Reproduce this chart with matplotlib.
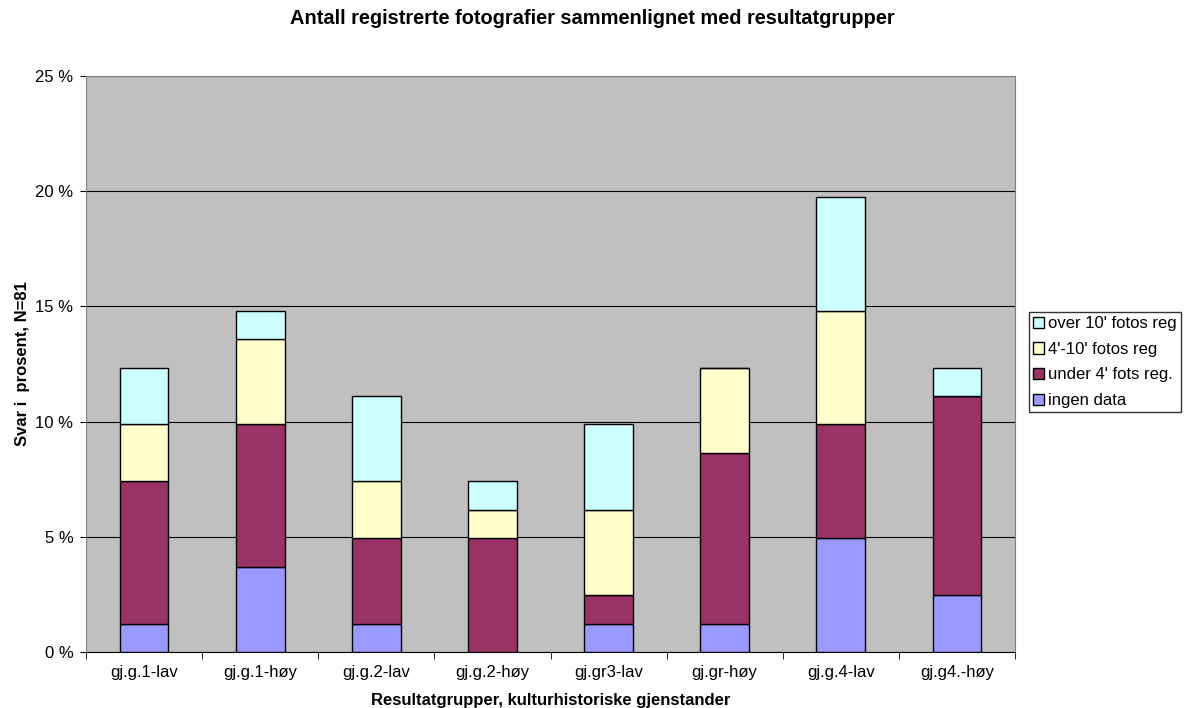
import matplotlib
matplotlib.use("Agg")
import matplotlib.pyplot as plt
import numpy as np
from matplotlib.ticker import FixedLocator, FuncFormatter

plt.rcParams['font.family'] = ['Liberation Sans', 'DejaVu Sans']

categories = ["gj.g.1-lav", "gj.g.1-høy", "gj.g.2-lav", "gj.g.2-høy",
              "gj.gr3-lav", "gj.gr-høy", "gj.g.4-lav", "gj.g4.-høy"]
N = 81
# counts per series (percent = count / N * 100)
ingen_data = [1, 3, 1, 0, 1, 1, 4, 2]
under_4 = [5, 5, 3, 4, 1, 6, 4, 7]
mellom_4_10 = [2, 3, 2, 1, 3, 3, 4, 0]
over_10 = [2, 1, 3, 1, 3, 0, 4, 1]

series = [
    ("ingen data", ingen_data, "#9999FF"),
    ("under 4' fots reg.", under_4, "#993366"),
    ("4'-10' fotos reg", mellom_4_10, "#FFFFCC"),
    ("over 10' fotos reg", over_10, "#CCFFFF"),
]

fig = plt.figure(figsize=(11.84, 7.08), dpi=100)
ax = fig.add_axes([86/1184, 56/708, (1015-86)/1184, (652-76)/708])
ax.set_facecolor("#C0C0C0")

x = np.arange(len(categories))
bottom = np.zeros(len(categories))
handles = []
for name, vals, col in series:
    pct = np.array(vals) / N * 100
    b = ax.bar(x, pct, width=0.42, bottom=bottom, color=col, edgecolor="black",
               linewidth=1.0, label=name, zorder=3)
    handles.append(b)
    bottom += pct

ax.set_xlim(-0.5, len(categories) - 0.5)
ax.set_ylim(0, 25)
ax.set_yticks([0, 5, 10, 15, 20, 25])
ax.yaxis.set_major_formatter(FuncFormatter(lambda v, p: f"{int(v)} %"))
ax.grid(axis="y", color="black", linewidth=0.8, zorder=1)
ax.set_xticks(x)
ax.set_xticklabels(categories)
ax.xaxis.set_minor_locator(FixedLocator(np.arange(-0.5, len(categories), 1)))
ax.tick_params(axis="x", which="major", length=0, pad=9.5, labelsize=12)
ax.tick_params(axis="x", which="minor", length=5, direction="out", color="black")
ax.tick_params(axis="y", length=4, direction="out", labelsize=12, color="black", pad=5)

for s in ["top", "right"]:
    ax.spines[s].set_color("#808080")
ax.spines["left"].set_color("#808080")
ax.spines["bottom"].set_color("black")

ax.set_xlabel("Resultatgrupper, kulturhistoriske gjenstander", fontsize=12,
              fontweight="bold", labelpad=9)
ax.set_ylabel("Svar i  prosent, N=81", fontsize=12, fontweight="bold", labelpad=4)
fig.text(0.5, 1 - 19/708, "Antall registrerte fotografier sammenlignet med resultatgrupper",
         ha="center", va="center", fontsize=14.4, fontweight="bold")

leg = ax.legend(handles[::-1], [s[0] for s in series][::-1],
                loc="upper left", bbox_to_anchor=(1029/1184, 1 - 312/708),
                bbox_transform=fig.transFigure, frameon=True, fancybox=False,
                edgecolor="black", fontsize=12, handlelength=0.65, handleheight=0.65,
                handletextpad=0.25, borderpad=0.25, labelspacing=0.64, borderaxespad=0)
leg.get_frame().set_linewidth(1.0)

fig.savefig("out.png", dpi=100)
